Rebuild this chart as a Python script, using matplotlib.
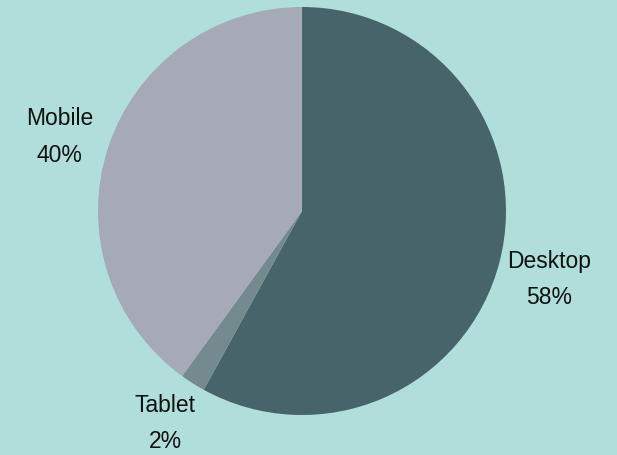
import matplotlib
matplotlib.use("Agg")
import matplotlib.pyplot as plt
import matplotlib.transforms as mtransforms

categories = ["Desktop", "Tablet", "Mobile"]
values = [58, 2, 40]
colors = ["#47646a", "#748a8f", "#a5aab6"]
bg = "#b0dfdb"

fig = plt.figure(figsize=(6.17, 4.56), dpi=100, facecolor=bg)
ax = fig.add_axes([98/617, 40/456, 408/617, 408/456])
ax.set_facecolor(bg)
labels = [f"{c}\n{v}%" for c, v in zip(categories, values)]
wedges, texts = ax.pie(values, labels=labels, colors=colors, startangle=90, counterclock=False,
       labeldistance=1.25, radius=1,
       wedgeprops=dict(linewidth=0),
       textprops=dict(ha="center", va="center", fontsize=16.5, color="#111111",
                      linespacing=1.75, family=["Liberation Sans", "DejaVu Sans"]))
ax.set_xlim(-1, 1)
ax.set_ylim(-1, 1)
ax.set_aspect("equal")
ax.axis("off")
for t, w in zip(texts, categories):
    dy = -4 if w != "Tablet" else 4
    t.set_transform(mtransforms.offset_copy(ax.transData, fig=fig, x=0, y=dy, units="dots"))
fig.savefig("out.png", dpi=100, facecolor=bg)
